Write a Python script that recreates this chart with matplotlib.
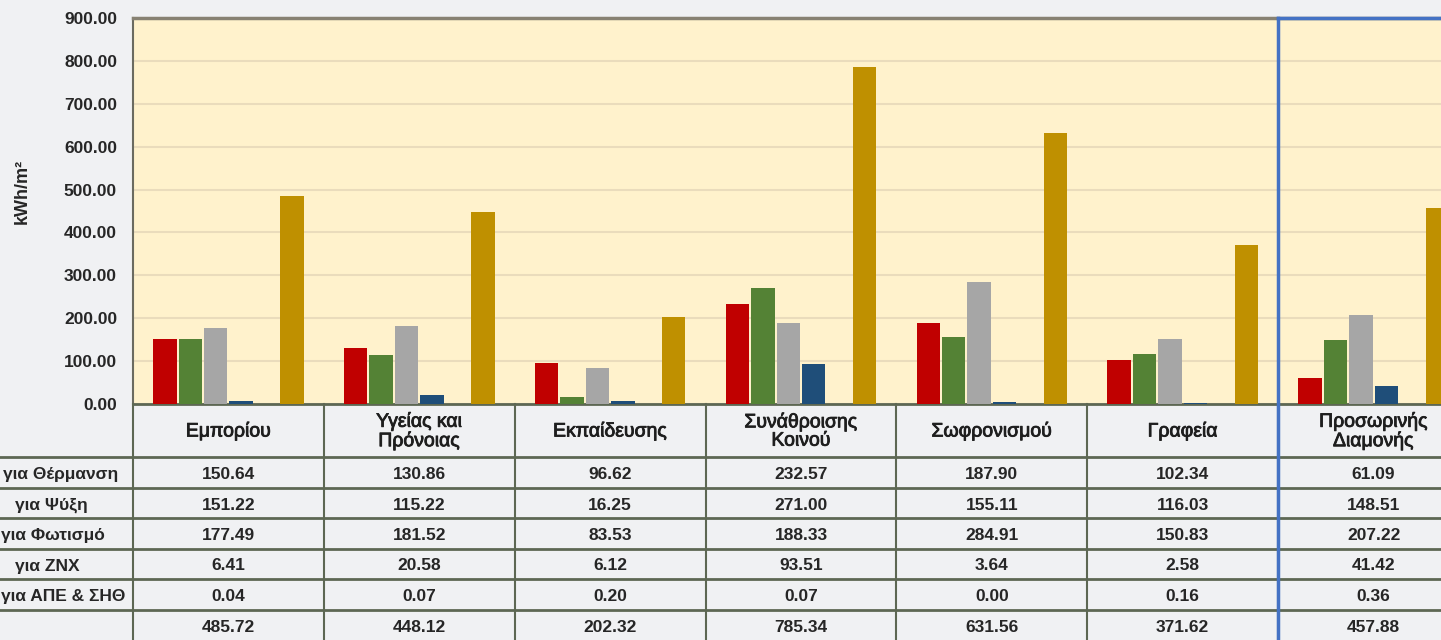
import numpy as np
import matplotlib
matplotlib.use("Agg")
import matplotlib.pyplot as plt
from matplotlib.lines import Line2D
import matplotlib.patheffects as pe

plt.rcParams['font.family'] = ['Liberation Sans', 'DejaVu Sans']

categories = ["Εμπορίου", "Υγείας και\nΠρόνοιας", "Εκπαίδευσης", "Συνάθροισης\nΚοινού",
              "Σωφρονισμού", "Γραφεία", "Προσωρινής\nΔιαμονής"]
row_labels = ["για Θέρμανση", "για Ψύξη", "για Φωτισμό", "για ZNX", "για ΑΠΕ & ΣΗΘ", ""]
heating = [150.64, 130.86, 96.62, 232.57, 187.90, 102.34, 61.09]
cooling = [151.22, 115.22, 16.25, 271.00, 155.11, 116.03, 148.51]
lighting = [177.49, 181.52, 83.53, 188.33, 284.91, 150.83, 207.22]
dhw = [6.41, 20.58, 6.12, 93.51, 3.64, 2.58, 41.42]
res_chp = [0.04, 0.07, 0.20, 0.07, 0.00, 0.16, 0.36]
total = [485.72, 448.12, 202.32, 785.34, 631.56, 371.62, 457.88]
y_ticks = [0, 100, 200, 300, 400, 500, 600, 700, 800, 900]

series = [heating, cooling, lighting, dhw, res_chp, total]
colors = ["#c00000", "#548235", "#a6a6a6", "#1f4e79", "#7030a0", "#bf9000"]

W, H = 1441, 640
BG = "#f0f1f3"
GRIDC = "#5d6753"
TXT = "#262626"

fig = plt.figure(figsize=(W / 100, H / 100), dpi=100, facecolor=BG)


def fx(px):
    return px / W


def fy(py):
    return 1 - py / H


left, top, bottom = 133, 18, 404
colw = 190.86
ax = fig.add_axes([fx(left), fy(bottom), 7 * colw / W, (bottom - top) / H])
ax.set_facecolor("#fff2cc")
x = np.arange(len(categories))
slot = 0.8 / 6
for j, (vals, c) in enumerate(zip(series, colors)):
    ax.bar(x + (j - 2.5) * slot, vals, width=slot * 0.92, color=c, zorder=3)
ax.set_xlim(-0.5, 6.5)
ax.set_ylim(0, 900)
ax.set_yticks(y_ticks)
ax.set_yticklabels([f"{v:.2f}" for v in y_ticks], fontweight='bold', fontsize=12.5, color=TXT)
ax.tick_params(axis='y', length=0, pad=11.5)
ax.set_xticks([])
ax.yaxis.grid(True, color="#eadcbc", lw=1.5)
ax.set_axisbelow(True)
ax.spines['top'].set_color("#878172")
ax.spines['top'].set_linewidth(2.5)
ax.spines['left'].set_color("#6b6b60")
ax.spines['left'].set_linewidth(1.5)
ax.spines['bottom'].set_color(GRIDC)
ax.spines['bottom'].set_linewidth(2)
ax.spines['right'].set_visible(False)

fig.text(fx(22), fy(191), "kWh/m²", rotation=90, ha='center', va='center',
         fontsize=13, fontweight='bold', color=TXT)

# table
tab = fig.add_axes([fx(left), 0, 7 * colw / W, (H - bottom) / H])
tab.set_xlim(-0.5, 6.5)
tab.set_ylim(H, bottom)
tab.axis('off')

row_lines = [457, 488, 518, 549, 579, 610]
for yl in row_lines:
    fig.add_artist(Line2D([0, 1], [fy(yl), fy(yl)], transform=fig.transFigure,
                          color=GRIDC, lw=2))
for k in range(8):
    tab.plot([k - 0.5, k - 0.5], [bottom, H], color=GRIDC, lw=1.5, clip_on=False)

for i, cat in enumerate(categories):
    tab.text(i, (bottom + row_lines[0]) / 2 + 1, cat, ha='center', va='center',
             fontsize=14, color="#1e1e1e", linespacing=1.1,
             path_effects=[pe.withStroke(linewidth=0.6, foreground="#1e1e1e")])

row_tops = row_lines
row_bots = row_lines[1:] + [H + 1]
label_x = [3, 15, 1, 15, 1, 0]
for r, vals in enumerate(series):
    yc = (row_tops[r] + row_bots[r]) / 2 + 2
    for i, v in enumerate(vals):
        tab.text(i, yc, f"{v:.2f}", ha='center', va='center', fontsize=12.5,
                 fontweight='bold', color=TXT)
    if row_labels[r]:
        fig.text(fx(label_x[r]), fy(yc), row_labels[r], ha='left', va='center',
                 fontsize=12.5, fontweight='bold', color=TXT)

# blue highlight rectangle around last category
bx = left + 6 * colw
fig.add_artist(Line2D([fx(bx), fx(bx)], [0, fy(top)], transform=fig.transFigure,
                      color="#4472c4", lw=2.5, zorder=10))
fig.add_artist(Line2D([fx(bx), 1], [fy(top), fy(top)], transform=fig.transFigure,
                      color="#4472c4", lw=2.5, zorder=10))

fig.savefig("out.png", dpi=100, facecolor=BG)
